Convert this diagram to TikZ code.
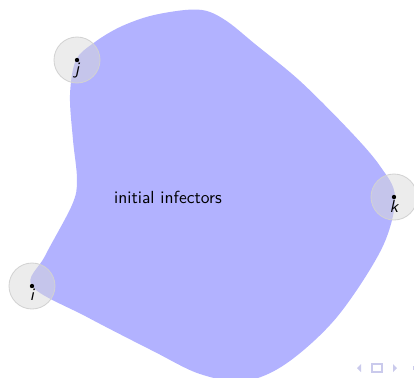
\documentclass[tikz,border=0pt]{standalone}
\usepackage{tikz}
\usetikzlibrary{positioning}
\tikzstyle{agent} = [circle, minimum size=27.6pt, inner sep=0pt, draw=gray!35, line width=0.5pt, fill=gray!30, fill opacity=0.5]
\tikzstyle{dotlabel} = [below=1.8pt of #1.center, inner sep=0pt, font=\fontsize{10.5}{12}\sffamily\itshape]
\tikzstyle{blob} = [fill=blue!30, draw=none]
\definecolor{navcol}{RGB}{202,202,236}
\tikzstyle{navbtn} = [fill=navcol, draw=none]

\begin{document}
\begin{tikzpicture}[x=0.6pt, y=-0.6pt, every node/.style={font=\fontsize{10.5}{12}\sffamily}]
        \useasboundingbox (0,0) rectangle (414,377);
        % infected region
        \fill[blob] plot[smooth cycle, tension=0.55] coordinates {
            (76,60) (95,42) (120,27) (150,16) (185,10) (207,11) (228,22)
            (255,44) (300,81) (350,131) (380,166) (395,197) (382,248)
            (337,317) (287,363) (245,381) (200,374) (153,351) (87,317)
            (32,286) (45,256) (72,205) (77,180) (73,140) (70,95)};
        \node (txt) at (168,197) {initial infectors};
        % agents
        \node[agent] (j) at (77,60) {};
        \node[agent] (k) at (394,197) {};
        \node[agent] (i) at (32,286) {};
        \foreach \a in {i,j,k} {
            \fill (\a.center) circle (1.3pt);
            \node[dotlabel=\a] (lab\a) {\a};
        }
        % navigation symbols
        \fill[navbtn] (361,364) -- (361,372) -- (357,368) -- cycle;
        \draw[navcol, line width=0.8pt] (372,364) rectangle (382,372);
        \fill[navbtn] (393,364) -- (393,372) -- (397,368) -- cycle;
        \fill[navbtn] (413,366) rectangle (414,370);
    \end{tikzpicture}
\end{document}
